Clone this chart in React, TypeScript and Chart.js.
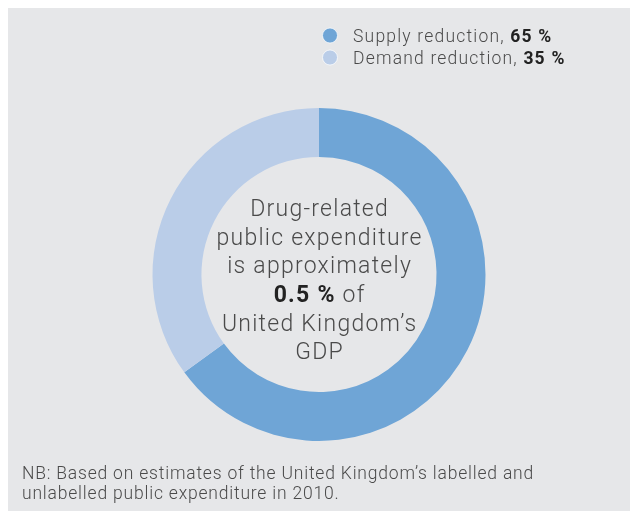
import React, { useEffect, useRef } from "react";
import { Chart, registerables } from "chart.js";

Chart.register(...registerables);

const categories = ["Supply reduction", "Demand reduction"];
const shares = [65, 35];
const colors = ["#6fa5d6", "#bacde8"];
const centerLines: { text: string; bold?: boolean }[][] = [
  [{ text: "Drug-related" }],
  [{ text: "public expenditure" }],
  [{ text: "is approximately" }],
  [{ text: "0.5 %", bold: true }, { text: " of" }],
  [{ text: "United Kingdom\u2019s" }],
  [{ text: "GDP" }],
];
const footnote = [
  "NB: Based on estimates of the United Kingdom\u2019s labelled and",
  "unlabelled public expenditure in 2010.",
];

const FONT = "Roboto, 'Noto Sans', sans-serif";
const TEXT = "#4a4a4a";
const BOLD = "#222222";

function drawSegments(
  ctx: CanvasRenderingContext2D,
  segs: { text: string; bold?: boolean }[],
  x: number,
  y: number,
  size: number,
  align: "left" | "center",
  spacing: number
) {
  const fontFor = (b?: boolean) => `${b ? 700 : 300} ${size}px ${FONT}`;
  (ctx as any).letterSpacing = spacing + "px";
  let total = 0;
  for (const s of segs) {
    ctx.font = fontFor(s.bold);
    total += ctx.measureText(s.text).width;
  }
  if (align === "center") total -= spacing;
  let cx = align === "center" ? x - total / 2 : x;
  for (const s of segs) {
    ctx.font = fontFor(s.bold);
    ctx.fillStyle = s.bold ? BOLD : TEXT;
    ctx.textAlign = "left";
    ctx.textBaseline = "alphabetic";
    ctx.fillText(s.text, cx, y);
    cx += ctx.measureText(s.text).width;
  }
  (ctx as any).letterSpacing = "0px";
}

const textPlugin = {
  id: "texts",
  afterDraw(chart: any) {
    const ctx: CanvasRenderingContext2D = chart.ctx;
    ctx.save();
    // legend
    const legendY = [35.5, 57.5];
    categories.forEach((c, i) => {
      const cy = legendY[i] - 8;
      ctx.beginPath();
      ctx.arc(322, cy, 7.5, 0, Math.PI * 2);
      ctx.fillStyle = colors[i];
      ctx.fill();
      ctx.lineWidth = 1;
      ctx.strokeStyle = "rgba(255,255,255,0.7)";
      ctx.stroke();
      drawSegments(
        ctx,
        [{ text: c + ", " }, { text: shares[i] + " %", bold: true }],
        345,
        cy + 6,
        17.5,
        "left",
        1.2
      );
    });
    // center text
    const meta = chart.getDatasetMeta(0).data[0];
    const cx = meta.x;
    const baseY = [208, 237, 265, 294, 323, 351];
    centerLines.forEach((line, i) => {
      drawSegments(ctx, line, cx, baseY[i], 23, "center", 1.25);
    });
    // footnote
    footnote.forEach((l, i) => {
      drawSegments(ctx, [{ text: l }], 14, 471 + i * 19.5, 17.5, "left", 0.8);
    });
    ctx.restore();
  },
};

export default function App() {
  const ref = useRef<HTMLCanvasElement>(null);
  useEffect(() => {
    if (!ref.current) return;
    const chart = new Chart(ref.current, {
      type: "doughnut",
      data: {
        labels: categories,
        datasets: [
          {
            data: shares,
            backgroundColor: colors,
            borderWidth: 0,
            hoverOffset: 0,
          },
        ],
      },
      options: {
        responsive: false,
        animation: false,
        cutout: "70.6%",
        layout: { padding: { top: 100, bottom: 70, left: 0, right: 8 } },
        plugins: {
          legend: { display: false },
          tooltip: { enabled: false },
        },
      },
      plugins: [textPlugin],
    });
    return () => chart.destroy();
  }, []);
  return (
    <div style={{ width: 630, height: 503, background: "#e6e7e9" }}>
      <canvas ref={ref} width={630} height={503} style={{ display: "block" }} />
    </div>
  );
}
